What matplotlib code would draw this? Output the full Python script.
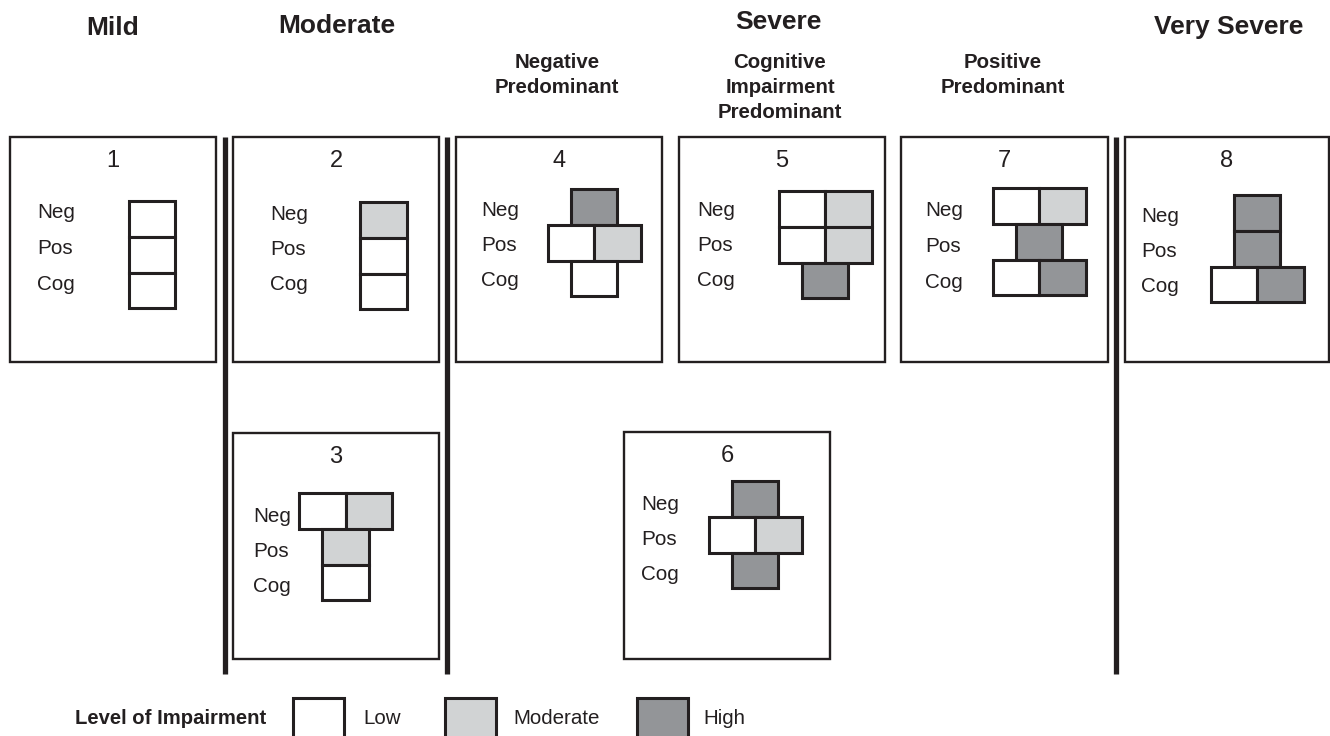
#!/usr/bin/env python3
"""Impairment profile diagram: Neg / Pos / Cog levels for eight clusters."""
import matplotlib
matplotlib.use("Agg")
import matplotlib.pyplot as plt
from matplotlib.patches import Rectangle

# --- data -------------------------------------------------------------
domains = ["Neg", "Pos", "Cog"]
level_names = ["Low", "Moderate", "High"]
level_colors = ["#ffffff", "#d1d3d4", "#939598"]

panel_ids = [1, 2, 3, 4, 5, 6, 7, 8]
# level index per cell in each row (0 = low, 1 = moderate, 2 = high)
neg_levels = [[0], [1], [0, 1], [2], [0, 1], [2], [0, 1], [2]]
pos_levels = [[0], [0], [1], [0, 1], [0, 1], [0, 1], [2], [2]]
cog_levels = [[0], [0], [0], [0], [2], [2], [0, 2], [0, 2]]

severity_groups = ["Mild", "Moderate", "Severe", "Very Severe"]
subgroups = [["Negative", "Predominant"],
             ["Cognitive", "Impairment", "Predominant"],
             ["Positive", "Predominant"]]

# --- layout (pixel space) --------------------------------------------
W, H = 1330, 736
INK = "#231f20"
FONT = ["Liberation Sans", "DejaVu Sans"]

# box x0, x1, y0, y1 ; label x ; first label y ; cell centre x ; cell top y
boxes = {
    1: (10, 216, 137, 362, 37, 213, 152, 201),
    2: (233, 439, 137, 362, 270, 214, 383.5, 202),
    3: (233, 439, 433, 659, 253, 516, 345.5, 493),
    4: (456, 662, 137, 362, 481, 210, 594, 189),
    5: (679, 885, 137, 362, 697, 210, 825, 191),
    6: (624, 830, 432, 659, 641, 504, 755, 481),
    7: (901, 1108, 137, 362, 925, 211, 1039, 188),
    8: (1125, 1329, 137, 362, 1141, 216, 1257, 195),
}
CELL_W, CELL_H = 46.5, 35.8
ROW_STEP = 35.5

header_pos = [(113, 28), (337, 26), (778, 22), (1229, 27)]
sub_x = [557, 780, 1003]
sub_y0, sub_step = 62, 25.5
separators_x = [225, 447, 1116]

fig = plt.figure(figsize=(W / 100, H / 100), dpi=100)
ax = fig.add_axes([0, 0, 1, 1])
ax.set_xlim(0, W)
ax.set_ylim(H, 0)
ax.axis("off")

# headers
for name, (x, y) in zip(severity_groups, header_pos):
    ax.text(x, y, name, ha="center", va="center", fontsize=19,
            fontweight="bold", color=INK, family=FONT)
for lines, x in zip(subgroups, sub_x):
    for i, line in enumerate(lines):
        ax.text(x, sub_y0 + i * sub_step, line, ha="center", va="center",
                fontsize=14.7, fontweight="bold", color=INK, family=FONT)

# thick separators
for x in separators_x:
    ax.plot([x, x], [137, 674], color=INK, lw=3.8, solid_capstyle="butt")

# panels
for k, pid in enumerate(panel_ids):
    x0, x1, y0, y1, lx, ly, cx, cy = boxes[pid]
    ax.add_patch(Rectangle((x0, y0), x1 - x0, y1 - y0, fill=False,
                           edgecolor=INK, lw=1.7, joinstyle="miter"))
    ax.text((x0 + x1) / 2, y0 + 24, str(pid), ha="center", va="center",
            fontsize=17, color=INK, family=FONT)
    rows = [neg_levels[k], pos_levels[k], cog_levels[k]]
    for r, (dom, row) in enumerate(zip(domains, rows)):
        ax.text(lx, ly + r * ROW_STEP, dom, ha="left", va="center",
                fontsize=14.9, color=INK, family=FONT)
        left = cx - len(row) * CELL_W / 2
        for c, lev in enumerate(row):
            ax.add_patch(Rectangle((left + c * CELL_W, cy + r * CELL_H),
                                   CELL_W, CELL_H,
                                   facecolor=level_colors[lev],
                                   edgecolor=INK, lw=2.2, joinstyle="miter"))

# legend
ax.text(266, 719, "Level of Impairment", ha="right", va="center",
        fontsize=14.6, fontweight="bold", color=INK, family=FONT)
legend_box_x = [293, 445, 637]
legend_text_x = [363, 513, 703]
for name, col, bx, tx in zip(level_names, level_colors, legend_box_x, legend_text_x):
    ax.add_patch(Rectangle((bx, 698), 51, 60, facecolor=col, edgecolor=INK,
                           lw=2.2, joinstyle="miter", clip_on=True))
    ax.text(tx, 719, name, ha="left", va="center", fontsize=14.8,
            color=INK, family=FONT)

fig.savefig("out.png", dpi=100, facecolor="white")
